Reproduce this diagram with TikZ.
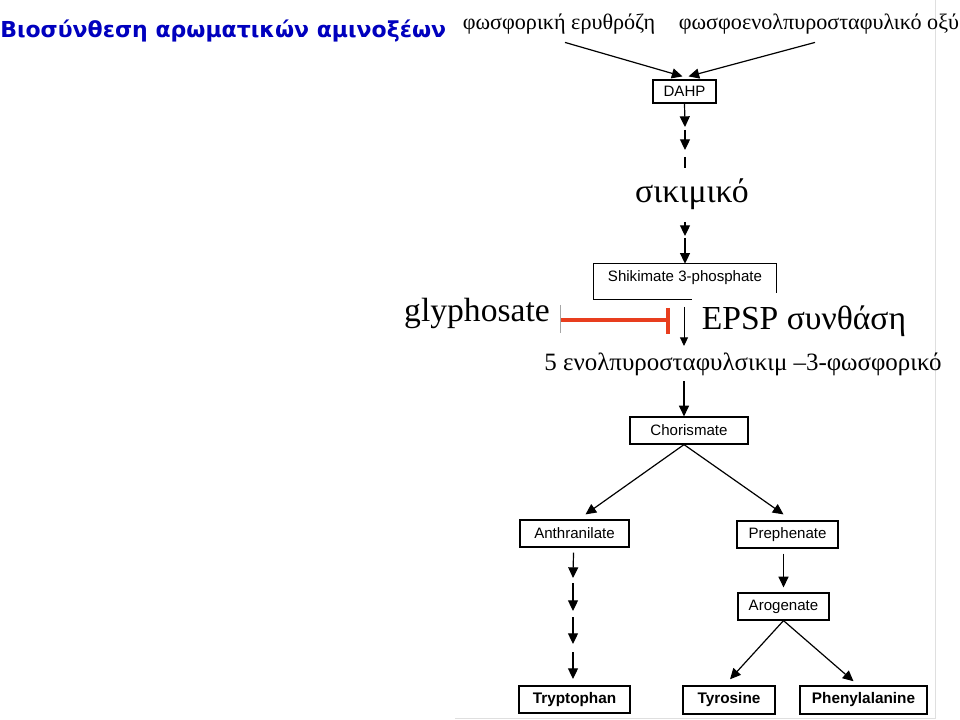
\documentclass[tikz,border=0pt]{standalone}
\usepackage{fontspec}
\setmainfont{Liberation Serif}
\newfontfamily\arialf{Liberation Sans}
\newfontfamily\titlef{DejaVu Sans}
\usetikzlibrary{arrows.meta,calc}
\definecolor{titleblue}{RGB}{0,0,190}
\definecolor{inhib}{RGB}{232,62,30}
\begin{document}
\begin{tikzpicture}[x=0.75pt,y=-0.75pt,
  arr/.style={-{Triangle[length=8pt,width=7.5pt]}, line width=0.9pt},
  plain/.style={line width=0.9pt},
  pbox/.style={draw, line width=0.9pt, inner sep=0pt, font=\arialf\fontsize{11.3}{13}\selectfont},
  bbox/.style={draw, line width=1.1pt, inner sep=0pt, font=\arialf\bfseries\fontsize{11.5}{13}\selectfont},
  grk/.style={inner sep=0pt},
]
\useasboundingbox (0,0) rectangle (960,720);
% faint border of scanned figure
\draw[gray!25, line width=0.6pt] (935,0) -- (935,718) -- (455,718);

% title
\node[grk, anchor=west, text=titleblue, font=\titlef\bfseries\fontsize{16.5}{19}\selectfont] (title) at (0,31) {Βιοσύνθεση αρωματικών αμινοξέων};

% top labels
\node[grk, font=\fontsize{16.6}{19}\selectfont] (ery) at (559,24) {φωσφορική ερυθρόζη};
\node[grk, font=\fontsize{16.6}{19}\selectfont] (pep) at (819,24) {φωσφοενολπυροσταφυλικό οξύ};

% DAHP
\node[pbox, minimum width=47.25pt, minimum height=17.25pt] (dahp) at (684.5,91.5) {DAHP};
\draw[arr] ($(ery.south)+(6,8)$) -- ($(dahp.north)+(-2,-3)$);
\draw[arr] ($(pep.south)+(-4,8)$) -- ($(dahp.north)+(4,-3)$);

\coordinate (d1) at (685,127);
\coordinate (d2a) at (685,130);
\coordinate (d2) at (685,150);
\coordinate (d3a) at (685,157);
\coordinate (d3) at (685,168);
\draw[arr] (dahp.south) -- (d1);
\draw[arr] (d2a) -- (d2);
\draw[plain] (d3a) -- (d3);

% shikimate
\node[grk, font=\fontsize{25.3}{29}\selectfont] (sik) at (692,194) {σικιμικό};
\coordinate (s1a) at (685,222);
\coordinate (s1) at (685,236);
\coordinate (s2a) at (685,238);
\draw[arr] (s1a) -- (s1);

% Shikimate 3-phosphate (open frame)
\node[grk, minimum width=136.5pt, minimum height=26.25pt] (s3p) at (685,281.5) {};
\node[grk, font=\arialf\fontsize{11.3}{13}\selectfont] (s3plab) at (685,278) {Shikimate 3-phosphate};
\draw[arr] (s2a) -- (s3p.north);
\draw[line width=0.9pt] ($(s3p.south west)+(98,0)$) -- (s3p.south west) -- (s3p.north west) -- (s3p.north east) -- ($(s3p.north east)+(0,29)$);

% glyphosate / EPSP synthase
\node[grk, font=\fontsize{25.2}{29}\selectfont] (gly) at (477,313) {glyphosate};
\node[grk, font=\fontsize{25.2}{29}\selectfont] (epsp) at (804,321) {EPSP συνθάση};
\coordinate (inA) at (561,320);
\coordinate (inB) at (668,320);
\draw[gray!70, line width=0.5pt] ($(inA)+(-1,-15)$) -- ($(inA)+(-1,13)$);
\draw[inhib, line width=2.4pt] (inA) -- (inB);
\draw[inhib, line width=3pt] ($(inB)+(0,-12)$) -- ($(inB)+(0,14)$);
\coordinate (ep1) at (684,307);
\coordinate (ep2) at (684,346);
\draw[-{Triangle[length=6.5pt,width=6pt]}, line width=0.7pt] (ep1) -- (ep2);

\node[grk, font=\fontsize{18.7}{22}\selectfont] (enol) at (743,364) {5 ενολπυροσταφυλσικιμ –3-φωσφορικό};

% chorismate
\node[pbox, minimum width=88.5pt, minimum height=20.25pt] (chor) at (689,430.5) {Chorismate};
\coordinate (c0) at (684,381);
\draw[arr] (c0) -- ($(chor.north)+(-5,0)$);

\node[pbox, minimum width=81.75pt, minimum height=20.25pt] (anth) at (574.5,533.5) {Anthranilate};
\node[pbox, minimum width=75.75pt, minimum height=20.25pt] (preph) at (787.5,534.5) {Prephenate};
\draw[arr] ($(chor.south)+(-5,0)$) -- ($(anth.north)+(11,-5)$);
\draw[arr] ($(chor.south)+(-5,0)$) -- ($(preph.north)+(-4,-6)$);

% tryptophan branch
\node[bbox, minimum width=83.25pt, minimum height=20.25pt] (trp) at (574.5,699.5) {Tryptophan};
\coordinate (t1) at (573,578);
\coordinate (t2a) at (573,583);
\coordinate (t2) at (573,611);
\coordinate (t3a) at (573,617);
\coordinate (t3) at (573,644);
\coordinate (t4a) at (573,652);
\coordinate (t4) at (573,679);
\draw[arr] ($(anth.south)+(-1,5)$) -- (t1);
\draw[arr] (t2a) -- (t2);
\draw[arr] (t3a) -- (t3);
\draw[arr] (t4a) -- (t4);

% phenylalanine / tyrosine branch
\node[pbox, minimum width=68.25pt, minimum height=20.25pt] (arog) at (783.5,606.5) {Arogenate};
\draw[arr] ($(preph.south)+(-4,5)$) -- ($(arog.north)+(0,-5)$);
\node[bbox, minimum width=69pt, minimum height=21pt] (tyr) at (729,700) {Tyrosine};
\node[bbox, minimum width=95.25pt, minimum height=21pt] (phe) at (863.5,700) {Phenylalanine};
\draw[arr] (arog.south) -- ($(tyr.north)+(1,-6)$);
\draw[arr] (arog.south) -- ($(phe.north)+(-10,-4)$);
\end{tikzpicture}
\end{document}
